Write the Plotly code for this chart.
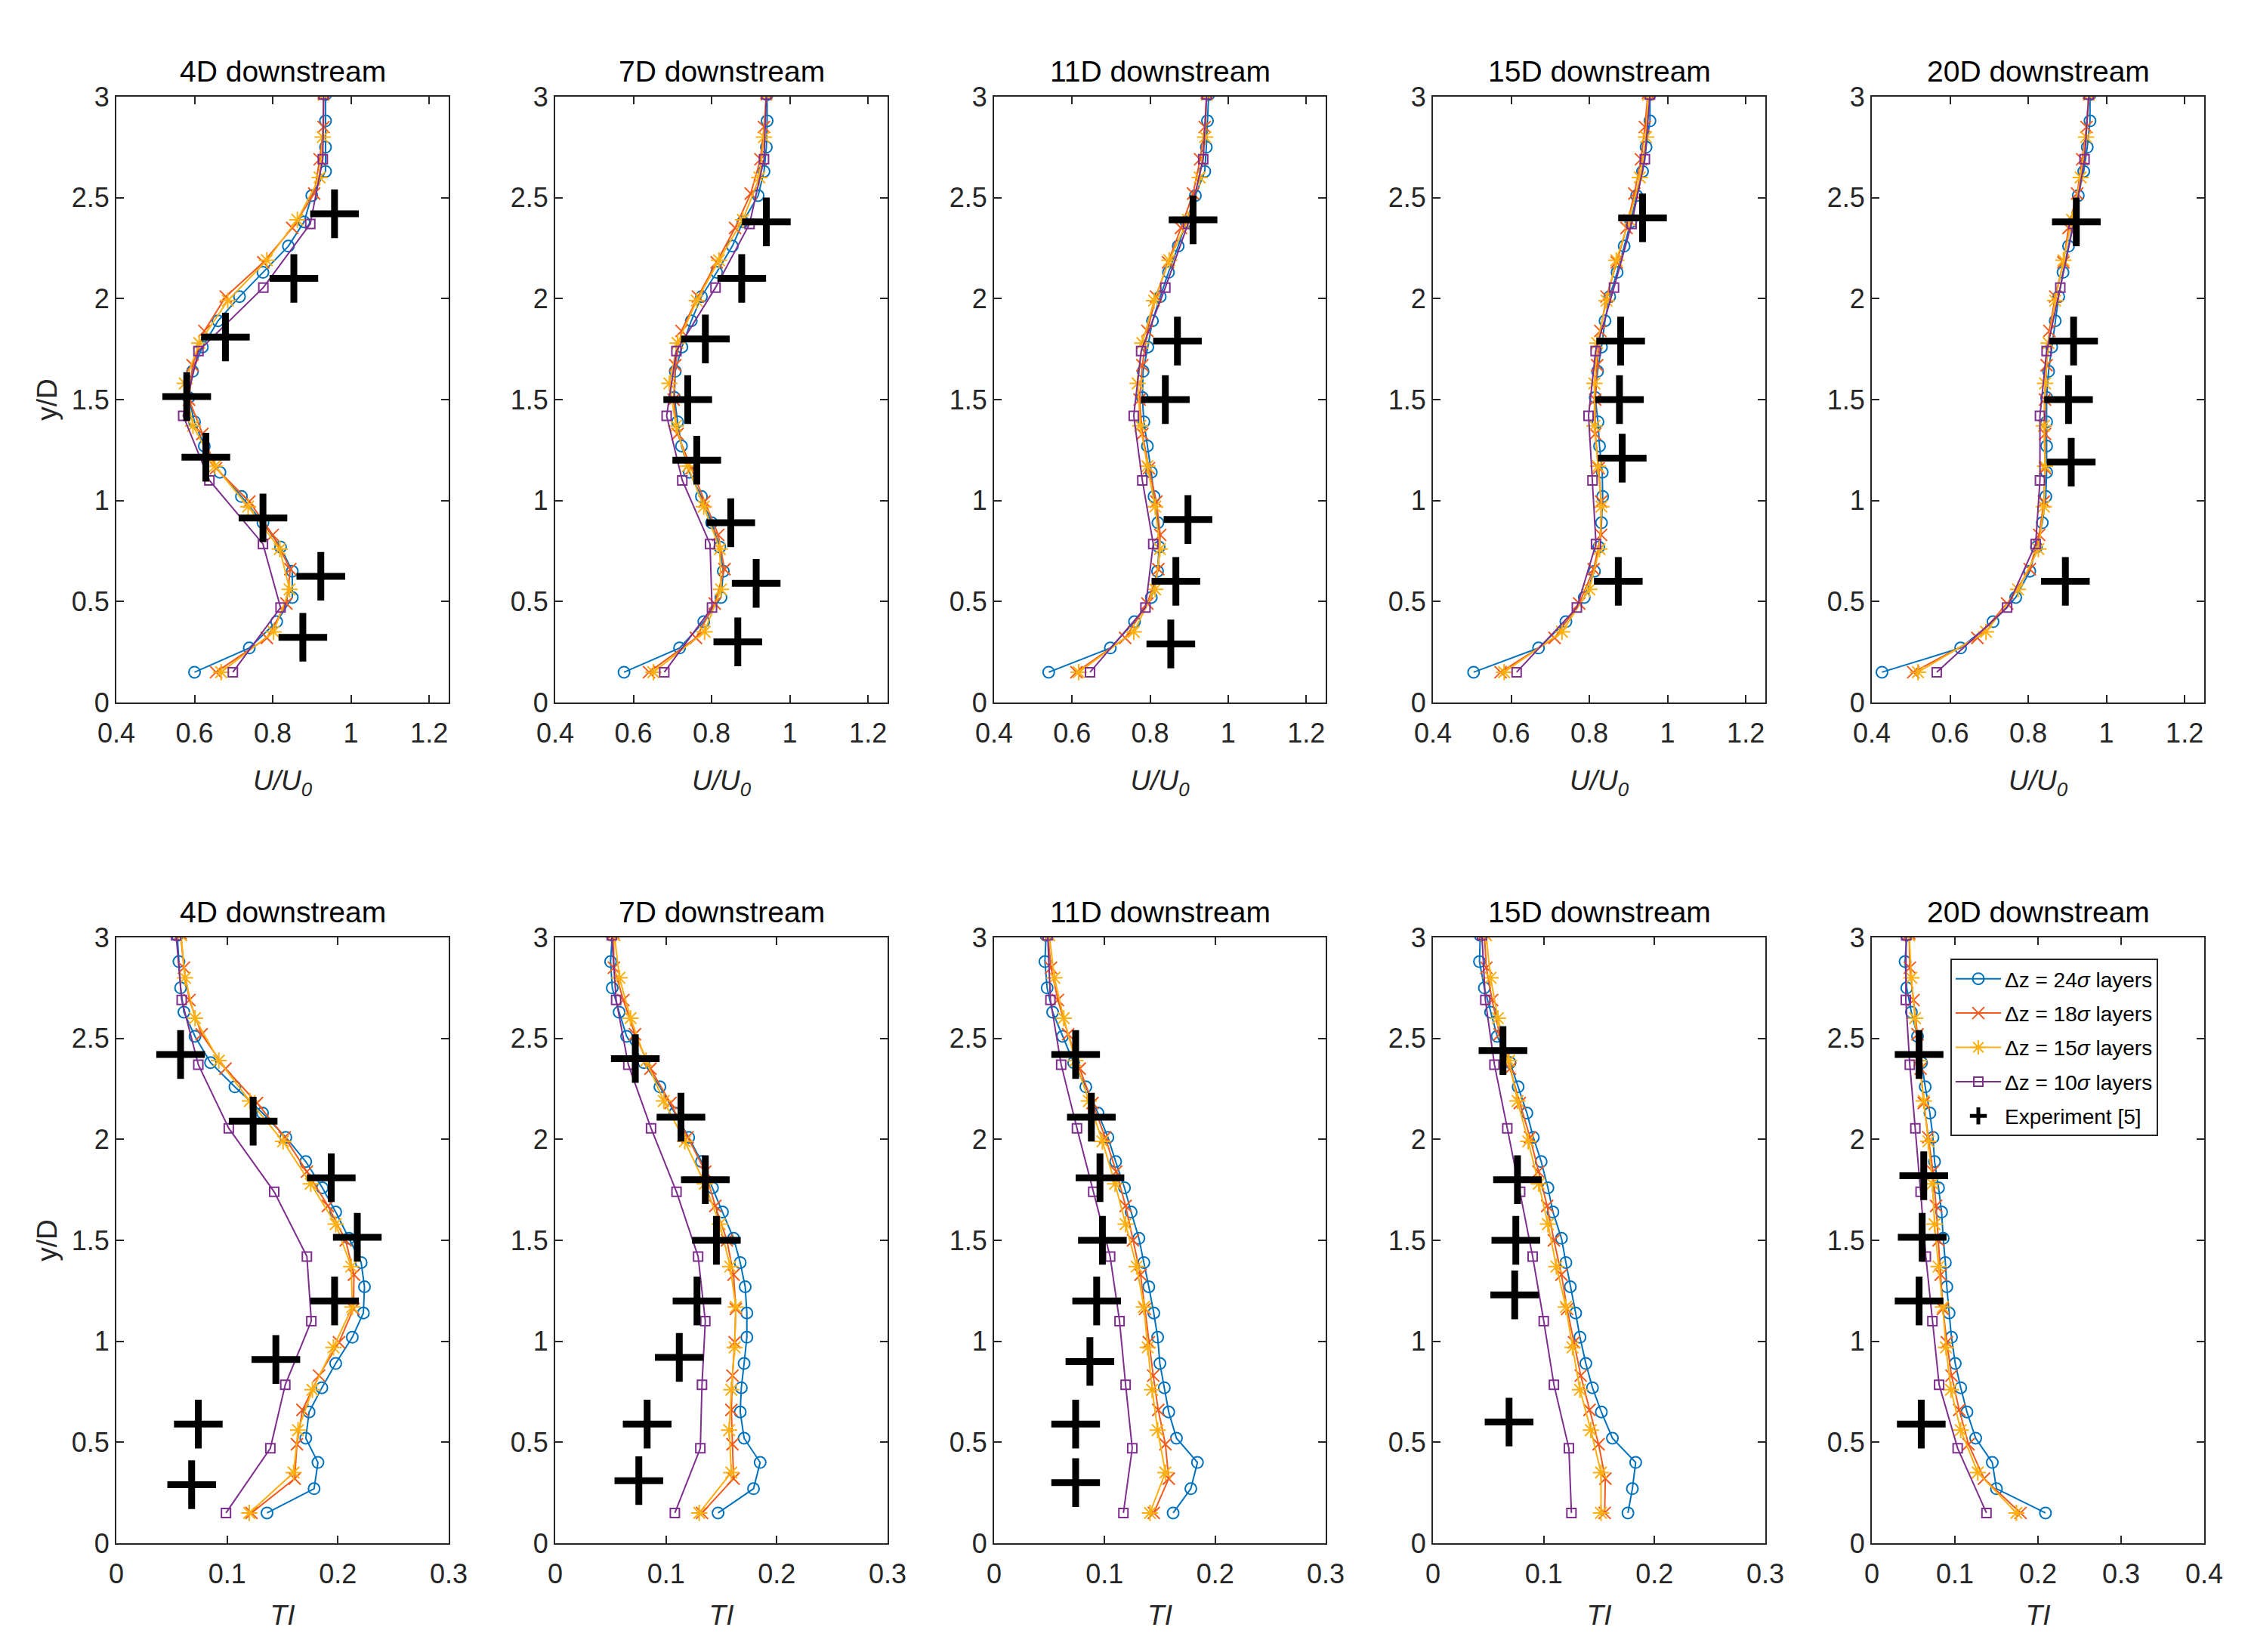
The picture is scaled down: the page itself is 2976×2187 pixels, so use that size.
import plotly.graph_objects as go

# y/D of the sigma layers for each vertical resolution
y24 = [0.15, 0.27, 0.40, 0.52, 0.65, 0.77, 0.89, 1.02, 1.14, 1.27, 1.39, 1.51,
       1.64, 1.76, 1.89, 2.01, 2.13, 2.26, 2.38, 2.51, 2.63, 2.75, 2.88, 3.01]
y18 = [0.15, 0.32, 0.49, 0.66, 0.83, 0.995, 1.16, 1.33, 1.50, 1.67, 1.84, 2.01,
       2.18, 2.35, 2.52, 2.69, 2.85, 3.02]
y15 = [0.15, 0.35, 0.56, 0.76, 0.97, 1.17, 1.37, 1.58, 1.78, 1.99, 2.19, 2.39,
       2.60, 2.80, 3.01]
y10 = [0.15, 0.47, 0.785, 1.10, 1.42, 1.74, 2.055, 2.37, 2.69, 3.01]

# ---- U/U0 profiles ----
u4_24 = [0.60, 0.74, 0.81, 0.85, 0.85, 0.82, 0.775, 0.72, 0.665, 0.625, 0.60, 0.585,
         0.595, 0.62, 0.66, 0.715, 0.775, 0.84, 0.88, 0.90, 0.935, 0.935, 0.935, 0.935]
u4_18 = [0.655, 0.785, 0.835, 0.845, 0.80, 0.74, 0.655, 0.62, 0.586, 0.595, 0.625, 0.68,
         0.776, 0.85, 0.906, 0.92, 0.93, 0.93]
u4_15 = [0.668, 0.802, 0.843, 0.818, 0.737, 0.652, 0.596, 0.575, 0.612, 0.685, 0.785, 0.863,
         0.92, 0.928, 0.93]
u4_10 = [0.698, 0.82, 0.775, 0.638, 0.571, 0.61, 0.776, 0.896, 0.928, 0.93]
exp_u4_x = [0.958, 0.854, 0.679, 0.58, 0.629, 0.775, 0.923, 0.877]
exp_u4_y = [2.42, 2.10, 1.81, 1.515, 1.215, 0.914, 0.625, 0.323]

u7_24 = [0.576, 0.718, 0.78, 0.824, 0.83, 0.821, 0.80, 0.774, 0.743, 0.723, 0.713, 0.705,
         0.707, 0.724, 0.748, 0.774, 0.813, 0.853, 0.88, 0.919, 0.934, 0.94, 0.942, 0.942]
u7_18 = [0.64, 0.76, 0.808, 0.833, 0.817, 0.782, 0.748, 0.713, 0.703, 0.707, 0.723, 0.765,
         0.813, 0.86, 0.90, 0.925, 0.934, 0.94]
u7_15 = [0.651, 0.782, 0.824, 0.821, 0.78, 0.739, 0.709, 0.692, 0.713, 0.762, 0.819, 0.88,
         0.922, 0.934, 0.94]
u7_10 = [0.679, 0.801, 0.796, 0.725, 0.685, 0.71, 0.81, 0.897, 0.934, 0.94]
exp_u7_x = [0.94, 0.877, 0.784, 0.739, 0.762, 0.849, 0.914, 0.867]
exp_u7_y = [2.38, 2.10, 1.80, 1.50, 1.20, 0.89, 0.59, 0.30]

u11_24 = [0.54, 0.698, 0.76, 0.803, 0.819, 0.823, 0.82, 0.81, 0.803, 0.793, 0.784, 0.78,
          0.782, 0.794, 0.806, 0.826, 0.847, 0.872, 0.892, 0.916, 0.94, 0.944, 0.947, 0.95]
u11_18 = [0.611, 0.736, 0.793, 0.821, 0.826, 0.816, 0.797, 0.78, 0.773, 0.78, 0.793, 0.815,
          0.846, 0.879, 0.91, 0.928, 0.94, 0.945]
u11_15 = [0.617, 0.758, 0.813, 0.825, 0.813, 0.793, 0.775, 0.768, 0.78, 0.81, 0.849, 0.897,
          0.927, 0.941, 0.945]
u11_10 = [0.646, 0.788, 0.808, 0.78, 0.758, 0.777, 0.839, 0.897, 0.936, 0.945]
exp_u11_x = [0.91, 0.87, 0.839, 0.897, 0.866, 0.853]
exp_u11_y = [2.39, 1.79, 1.50, 0.906, 0.60, 0.29]

u15_24 = [0.504, 0.67, 0.74, 0.787, 0.813, 0.824, 0.831, 0.834, 0.833, 0.826, 0.822, 0.815,
          0.821, 0.831, 0.84, 0.852, 0.871, 0.889, 0.906, 0.921, 0.936, 0.945, 0.955, 0.955]
u15_18 = [0.573, 0.711, 0.774, 0.811, 0.83, 0.83, 0.824, 0.815, 0.815, 0.82, 0.828, 0.844,
          0.87, 0.895, 0.915, 0.932, 0.942, 0.95]
u15_15 = [0.582, 0.73, 0.80, 0.826, 0.831, 0.822, 0.813, 0.813, 0.82, 0.844, 0.869, 0.902,
          0.929, 0.945, 0.95]
u15_10 = [0.614, 0.768, 0.817, 0.808, 0.798, 0.816, 0.863, 0.908, 0.942, 0.955]
exp_u15_x = [0.936, 0.88, 0.877, 0.884, 0.874]
exp_u15_y = [2.40, 1.79, 1.50, 1.21, 0.60]

u20_24 = [0.426, 0.627, 0.71, 0.768, 0.804, 0.821, 0.836, 0.845, 0.847, 0.847, 0.847, 0.847,
          0.852, 0.86, 0.869, 0.878, 0.889, 0.903, 0.916, 0.928, 0.942, 0.951, 0.958, 0.958]
u20_18 = [0.506, 0.67, 0.746, 0.804, 0.828, 0.84, 0.843, 0.843, 0.843, 0.847, 0.854, 0.869,
          0.89, 0.903, 0.925, 0.938, 0.949, 0.955]
u20_15 = [0.518, 0.692, 0.774, 0.826, 0.84, 0.843, 0.84, 0.843, 0.852, 0.869, 0.89, 0.912,
          0.934, 0.948, 0.955]
u20_10 = [0.566, 0.746, 0.819, 0.83, 0.83, 0.847, 0.882, 0.916, 0.944, 0.955]
exp_u20_x = [0.923, 0.916, 0.903, 0.91, 0.895]
exp_u20_y = [2.38, 1.79, 1.50, 1.19, 0.60]

# ---- TI profiles ----
ti4_24 = [0.136, 0.1785, 0.182, 0.171, 0.174, 0.1855, 0.198, 0.213, 0.223, 0.224, 0.221, 0.21,
          0.198, 0.186, 0.171, 0.153, 0.132, 0.107, 0.085, 0.071, 0.061, 0.058, 0.0565, 0.055]
ti4_18 = [0.122, 0.161, 0.163, 0.168, 0.183, 0.201, 0.214, 0.2145, 0.207, 0.191, 0.172, 0.152,
          0.127, 0.0985, 0.077, 0.066, 0.061, 0.058]
ti4_15 = [0.12, 0.16, 0.164, 0.177, 0.196, 0.213, 0.212, 0.198, 0.1755, 0.1505, 0.1205, 0.0925,
          0.071, 0.062, 0.0585]
ti4_10 = [0.099, 0.139, 0.1525, 0.176, 0.172, 0.1425, 0.1015, 0.074, 0.059, 0.054]
exp_ti4_x = [0.058, 0.1235, 0.194, 0.2175, 0.197, 0.144, 0.074, 0.068]
exp_ti4_y = [2.42, 2.09, 1.81, 1.515, 1.20, 0.91, 0.59, 0.29]

ti7_24 = [0.147, 0.179, 0.185, 0.1705, 0.167, 0.168, 0.1705, 0.173, 0.173, 0.1715, 0.167, 0.161,
          0.151, 0.142, 0.132, 0.1205, 0.108, 0.0945, 0.080, 0.0645, 0.0577, 0.0515, 0.050, 0.0515]
ti7_18 = [0.1325, 0.161, 0.16, 0.159, 0.16, 0.162, 0.163, 0.161, 0.155, 0.1445, 0.1355, 0.1195,
          0.104, 0.086, 0.072, 0.0615, 0.053, 0.0525]
ti7_15 = [0.130, 0.159, 0.157, 0.159, 0.162, 0.163, 0.158, 0.1485, 0.135, 0.117, 0.098, 0.082,
          0.068, 0.058, 0.0535]
ti7_10 = [0.108, 0.131, 0.1325, 0.1355, 0.129, 0.1095, 0.0865, 0.066, 0.055, 0.051]
exp_ti7_x = [0.0723, 0.1135, 0.1355, 0.1455, 0.128, 0.112, 0.083, 0.0755]
exp_ti7_y = [2.40, 2.11, 1.80, 1.50, 1.20, 0.92, 0.59, 0.31]

ti11_24 = [0.162, 0.178, 0.184, 0.165, 0.158, 0.154, 0.15, 0.148, 0.1445, 0.14, 0.1355, 0.131,
           0.124, 0.118, 0.110, 0.103, 0.094, 0.083, 0.072, 0.062, 0.053, 0.048, 0.046, 0.047]
ti11_18 = [0.1445, 0.158, 0.155, 0.1485, 0.144, 0.14, 0.1365, 0.1325, 0.1257, 0.119, 0.1105, 0.1005,
           0.089, 0.0775, 0.067, 0.0577, 0.0515, 0.0485]
ti11_15 = [0.141, 0.155, 0.148, 0.143, 0.139, 0.1355, 0.129, 0.119, 0.1095, 0.098, 0.0858, 0.0735,
           0.063, 0.0546, 0.050]
ti11_10 = [0.117, 0.125, 0.119, 0.1135, 0.105, 0.0897, 0.075, 0.0607, 0.051, 0.0485]
exp_ti11_x = [0.0738, 0.088, 0.0958, 0.098, 0.0928, 0.0867, 0.0738, 0.0738]
exp_ti11_y = [2.42, 2.11, 1.81, 1.50, 1.20, 0.90, 0.59, 0.30]

ti15_24 = [0.176, 0.18, 0.183, 0.162, 0.152, 0.144, 0.138, 0.1327, 0.1288, 0.124, 0.12, 0.116,
           0.1083, 0.1038, 0.0977, 0.0906, 0.0848, 0.0769, 0.0696, 0.058, 0.052, 0.0464, 0.042, 0.0427]
ti15_18 = [0.155, 0.1556, 0.1495, 0.1413, 0.1334, 0.1273, 0.1211, 0.116, 0.1092, 0.1031, 0.0952, 0.0876,
           0.0784, 0.0696, 0.0601, 0.0534, 0.0482, 0.0464]
ti15_15 = [0.1517, 0.1517, 0.1425, 0.1327, 0.126, 0.12, 0.1114, 0.1038, 0.0955, 0.086, 0.0763, 0.0687,
           0.0586, 0.052, 0.048]
ti15_10 = [0.125, 0.1227, 0.1092, 0.1, 0.09, 0.0787, 0.0671, 0.0555, 0.0473, 0.0442]
exp_ti15_x = [0.0632, 0.0763, 0.0748, 0.0738, 0.0687]
exp_ti15_y = [2.44, 1.80, 1.50, 1.23, 0.60]

ti20_24 = [0.209, 0.15, 0.145, 0.125, 0.1145, 0.107, 0.1004, 0.0959, 0.093, 0.0903, 0.0885, 0.0859,
           0.084, 0.0803, 0.0755, 0.0736, 0.0699, 0.0643, 0.0599, 0.055, 0.0476, 0.042, 0.040, 0.042]
ti20_18 = [0.179, 0.135, 0.1164, 0.1052, 0.0959, 0.0903, 0.0855, 0.0829, 0.0803, 0.0773, 0.0736, 0.068,
           0.0625, 0.0587, 0.055, 0.0502, 0.0457, 0.045]
ti20_15 = [0.174, 0.1275, 0.107, 0.0952, 0.0892, 0.0855, 0.0803, 0.0755, 0.0729, 0.068, 0.0625, 0.0569,
           0.052, 0.0476, 0.045]
ti20_10 = [0.138, 0.1033, 0.081, 0.0729, 0.065, 0.0587, 0.0524, 0.0457, 0.0409, 0.0413]
exp_ti20_x = [0.0569, 0.0625, 0.0606, 0.0569, 0.0595]
exp_ti20_y = [2.42, 1.82, 1.515, 1.20, 0.59]

titles = ['4D downstream', '7D downstream', '11D downstream', '15D downstream', '20D downstream']
u_ticks = [0.4, 0.6, 0.8, 1, 1.2]
u_ticktext = ['0.4', '0.6', '0.8', '1', '1.2']
ti_ticks = [0, 0.1, 0.2, 0.3, 0.4]
ti_ticktext = ['0', '0.1', '0.2', '0.3', '0.4']
y_ticks = [0, 0.5, 1, 1.5, 2, 2.5, 3]
y_ticktext = ['0', '0.5', '1', '1.5', '2', '2.5', '3']

FONT = 'Liberation Sans'
AX = '#262626'

series = [
    ('24', y24, '#0072BD', 'circle-open', 15),
    ('18', y18, '#F25A1D', 'x-thin-open', 16),
    ('15', y15, '#FDAF10', 'asterisk-open', 18),
    ('10', y10, '#7E2F8E', 'square-open', 12),
]

panels = [
    ([u4_24, u4_18, u4_15, u4_10], exp_u4_x, exp_u4_y),
    ([u7_24, u7_18, u7_15, u7_10], exp_u7_x, exp_u7_y),
    ([u11_24, u11_18, u11_15, u11_10], exp_u11_x, exp_u11_y),
    ([u15_24, u15_18, u15_15, u15_10], exp_u15_x, exp_u15_y),
    ([u20_24, u20_18, u20_15, u20_10], exp_u20_x, exp_u20_y),
    ([ti4_24, ti4_18, ti4_15, ti4_10], exp_ti4_x, exp_ti4_y),
    ([ti7_24, ti7_18, ti7_15, ti7_10], exp_ti7_x, exp_ti7_y),
    ([ti11_24, ti11_18, ti11_15, ti11_10], exp_ti11_x, exp_ti11_y),
    ([ti15_24, ti15_18, ti15_15, ti15_10], exp_ti15_x, exp_ti15_y),
    ([ti20_24, ti20_18, ti20_15, ti20_10], exp_ti20_x, exp_ti20_y),
]

# axes boxes measured in pixels of the 2976x2187 page
# (the page body adds an 8px offset, so subtract it here)
W, H = 2976, 2187
OFF = 8
x_px = [(154, 594), (735, 1175), (1316, 1755), (1897, 2337), (2478, 2918)]
y_px = [(128, 930), (1241, 2043)]

fig = go.Figure()
layout = {}
annotations = []

for i, (vals, ex, ey) in enumerate(panels):
    n = '' if i == 0 else str(i + 1)
    xa, ya = 'x' + n, 'y' + n
    last = (i == 9)
    for (lab, yy, col, sym, sz), xx in zip(series, vals):
        fig.add_trace(go.Scatter(
            x=xx, y=yy, xaxis=xa, yaxis=ya, mode='lines+markers',
            name='\u0394z = ' + lab + '<i>\u03c3</i> layers',
            legendgroup=lab, showlegend=last,
            line=dict(color=col, width=2),
            marker=dict(symbol=sym, size=sz, color=col, line=dict(color=col, width=2))))
    fig.add_trace(go.Scatter(
        x=ex, y=ey, xaxis=xa, yaxis=ya, mode='markers', name='Experiment [5]',
        legendgroup='exp', showlegend=last,
        marker=dict(symbol='cross-thin-open', size=46, color='black',
                    line=dict(color='black', width=9))))

    row, col = divmod(i, 5)
    x0, x1 = [v - OFF for v in x_px[col]]
    yt, yb = [v - OFF for v in y_px[row]]
    top = row == 0
    xr = [0.4, 1.25] if top else ([0, 0.4] if col == 4 else [0, 0.3])
    axis_common = dict(showline=True, linecolor=AX, linewidth=2, mirror='ticks',
                       ticks='inside', ticklen=10, tickwidth=2, tickcolor=AX,
                       showgrid=False, zeroline=False, automargin=False,
                       tickfont=dict(family=FONT, size=36, color=AX))
    layout['xaxis' + n] = dict(
        axis_common, domain=[x0 / W, x1 / W], range=xr, anchor=ya,
        ticklabelstandoff=8,
        tickvals=u_ticks if top else ti_ticks,
        ticktext=u_ticktext if top else ti_ticktext,
        title=dict(text='<i>U/U</i><sub><i>0</i></sub>' if top else '<i>TI</i>',
                   font=dict(family=FONT, size=37, color=AX),
                   standoff=30 if top else 22))
    yaxis = dict(
        axis_common, domain=[1 - yb / H, 1 - yt / H], range=[0, 3], anchor=xa,
        tickvals=y_ticks, ticktext=y_ticktext)
    if col == 0:
        yaxis['title'] = dict(text='y/D', font=dict(family=FONT, size=37, color=AX), standoff=8)
    layout['yaxis' + n] = yaxis
    annotations.append(dict(
        text=titles[col], xref='paper', yref='paper',
        x=(x0 + x1) / 2 / W, y=1 - yt / H, xanchor='center', yanchor='bottom',
        yshift=10, showarrow=False, font=dict(family=FONT, size=39, color='black')))

fig.update_layout(
    **layout,
    annotations=annotations,
    width=W, height=H,
    margin=dict(l=0, r=0, t=0, b=0),
    paper_bgcolor='white', plot_bgcolor='white',
    font=dict(family=FONT, color=AX),
    legend=dict(x=(2582 - OFF) / W, y=1 - (1269 - OFF) / H, xanchor='left', yanchor='top',
                bgcolor='white', bordercolor=AX, borderwidth=2,
                font=dict(family=FONT, size=28, color='black'),
                tracegroupgap=6, itemwidth=60),
)

fig.write_html('out.html')
